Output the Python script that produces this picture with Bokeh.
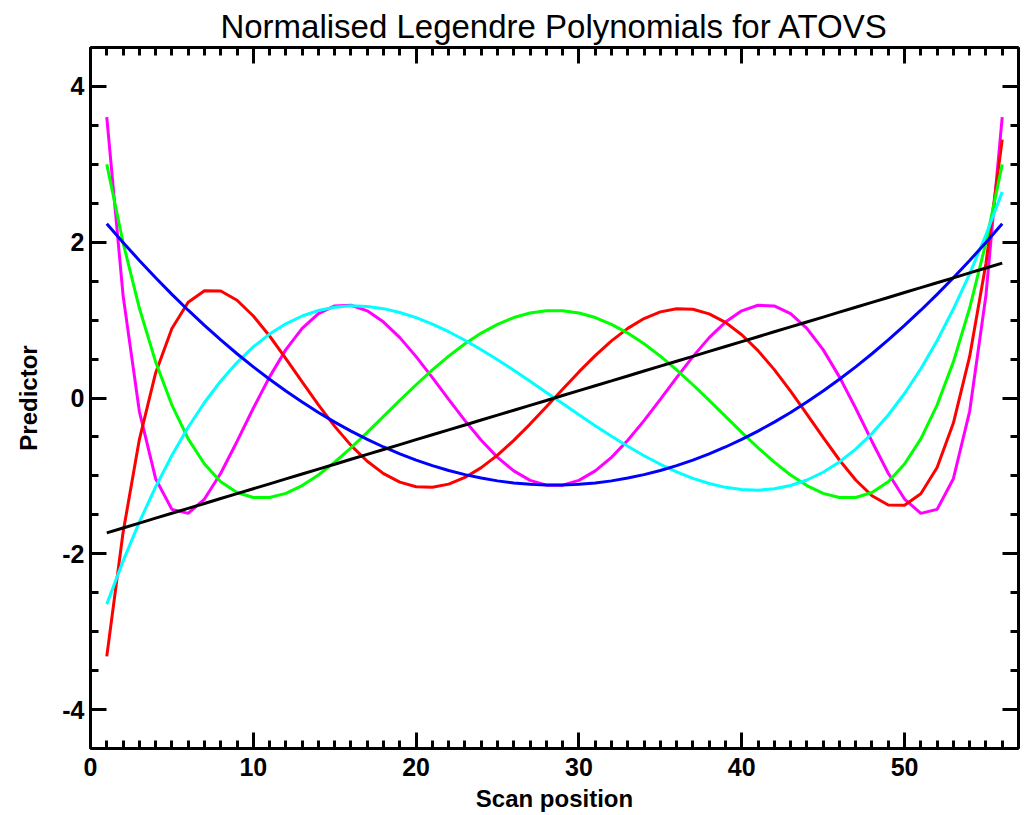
from bokeh.plotting import figure
from bokeh.models import Range1d, FixedTicker, LinearAxis
from bokeh.embed import file_html
from bokeh.resources import INLINE

scan = list(range(1, 57))

p1 = [-1.732, -1.669, -1.606, -1.543, -1.480, -1.417, -1.354, -1.291, -1.228, -1.165,
      -1.102, -1.039, -0.976, -0.913, -0.850, -0.787, -0.724, -0.661, -0.598, -0.535,
      -0.472, -0.409, -0.346, -0.283, -0.220, -0.158, -0.095, -0.032,
      0.032, 0.095, 0.158, 0.220, 0.283, 0.346, 0.409, 0.472, 0.535, 0.598,
      0.661, 0.724, 0.787, 0.850, 0.913, 0.976, 1.039, 1.102, 1.165, 1.228,
      1.291, 1.354, 1.417, 1.480, 1.543, 1.606, 1.669, 1.732]

p2 = [2.236, 1.997, 1.766, 1.544, 1.331, 1.127, 0.932, 0.746, 0.568, 0.400,
      0.240, 0.089, -0.052, -0.186, -0.310, -0.425, -0.532, -0.629, -0.718, -0.798,
      -0.869, -0.931, -0.984, -1.028, -1.064, -1.090, -1.108, -1.117,
      -1.117, -1.108, -1.090, -1.064, -1.028, -0.984, -0.931, -0.869, -0.798, -0.718,
      -0.629, -0.532, -0.425, -0.310, -0.186, -0.052, 0.089, 0.240, 0.400, 0.568,
      0.746, 0.932, 1.127, 1.331, 1.544, 1.766, 1.997, 2.236]

p3 = [-2.646, -2.094, -1.594, -1.142, -0.736, -0.376, -0.058, 0.218, 0.456, 0.656,
      0.821, 0.953, 1.053, 1.123, 1.166, 1.183, 1.176, 1.147, 1.098, 1.031,
      0.948, 0.851, 0.741, 0.620, 0.492, 0.356, 0.215, 0.072,
      -0.072, -0.215, -0.356, -0.492, -0.620, -0.741, -0.851, -0.948, -1.031, -1.098,
      -1.147, -1.176, -1.183, -1.166, -1.123, -1.053, -0.953, -0.821, -0.656, -0.456,
      -0.218, 0.058, 0.376, 0.736, 1.142, 1.594, 2.094, 2.646]

p4 = [3.000, 1.996, 1.155, 0.464, -0.091, -0.524, -0.848, -1.074, -1.213, -1.278,
      -1.278, -1.224, -1.124, -0.988, -0.824, -0.639, -0.441, -0.236, -0.031, 0.170,
      0.361, 0.538, 0.696, 0.833, 0.946, 1.033, 1.092, 1.121,
      1.121, 1.092, 1.033, 0.946, 0.833, 0.696, 0.538, 0.361, 0.170, -0.031,
      -0.236, -0.441, -0.639, -0.824, -0.988, -1.124, -1.224, -1.278, -1.278, -1.213,
      -1.074, -0.848, -0.524, -0.091, 0.464, 1.155, 1.996, 3.000]

p5 = [-3.317, -1.727, -0.534, 0.322, 0.893, 1.230, 1.377, 1.374, 1.255, 1.053,
      0.796, 0.506, 0.206, -0.089, -0.364, -0.608, -0.812, -0.971, -1.080, -1.139,
      -1.147, -1.106, -1.020, -0.894, -0.733, -0.544, -0.335, -0.113,
      0.113, 0.335, 0.544, 0.733, 0.894, 1.020, 1.106, 1.147, 1.139, 1.080,
      0.971, 0.812, 0.608, 0.364, 0.089, -0.206, -0.506, -0.796, -1.053, -1.255,
      -1.374, -1.377, -1.230, -0.893, -0.322, 0.534, 1.727, 3.317]

p6 = [3.606, 1.318, -0.171, -1.036, -1.430, -1.481, -1.297, -0.966, -0.558, -0.132,
      0.271, 0.621, 0.895, 1.084, 1.182, 1.191, 1.119, 0.975, 0.775, 0.531,
      0.262, -0.017, -0.291, -0.543, -0.762, -0.936, -1.057, -1.119,
      -1.119, -1.057, -0.936, -0.762, -0.543, -0.291, -0.017, 0.262, 0.531, 0.775,
      0.975, 1.119, 1.191, 1.182, 1.084, 0.895, 0.621, 0.271, -0.132, -0.558,
      -0.966, -1.297, -1.481, -1.430, -1.036, -0.171, 1.318, 3.606]

series = [p6, p5, p4, p3, p2, p1]
colors = ["#ff00ff", "#ff0000", "#00ff00", "#00ffff", "#0000ff", "#000000"]

x_ticks = [0, 10, 20, 30, 40, 50]
x_tick_labels = ["0", "10", "20", "30", "40", "50"]
x_minor = list(range(0, 58))
y_ticks = [-4, -2, 0, 2, 4]
y_tick_labels = ["-4", "-2", "0", "2", "4"]
y_minor = [-4.5 + 0.5 * i for i in range(19)]

FONT = "Liberation Sans"

p = figure(width=1024, height=815, output_backend="svg", toolbar_location=None,
           x_range=Range1d(0, 57), y_range=Range1d(-4.5, 4.5),
           min_border_left=90, min_border_right=6, min_border_top=47,
           min_border_bottom=67)
p.background_fill_color = "white"
p.border_fill_color = "white"
p.outline_line_color = None
p.grid.visible = False

p.title.text = "Normalised Legendre Polynomials for ATOVS"
p.title.align = "center"
p.title.text_font = FONT
p.title.text_font_size = "33px"
p.title.text_font_style = "normal"
p.title.text_color = "black"
p.title.standoff = 5

for yy, c in zip(series, colors):
    p.line(scan, yy, line_color=c, line_width=3)

xt = FixedTicker(ticks=x_ticks, minor_ticks=x_minor)
yt = FixedTicker(ticks=y_ticks, minor_ticks=y_minor)

bottom = p.below[0]
left = p.left[0]
top = LinearAxis(ticker=xt)
right = LinearAxis(ticker=yt)
p.add_layout(top, "above")
p.add_layout(right, "right")

bottom.ticker = xt
left.ticker = yt
bottom.axis_label = "Scan position"
left.axis_label = "Predictor"
bottom.major_label_overrides = {t: s for t, s in zip(x_ticks, x_tick_labels)}
left.major_label_overrides = {t: s for t, s in zip(y_ticks, y_tick_labels)}
top.major_label_overrides = {t: "" for t in x_ticks}
right.major_label_overrides = {t: "" for t in y_ticks}

for ax in [bottom, left, top, right]:
    ax.axis_line_width = 3
    ax.axis_line_color = "black"
    ax.major_tick_in = 16
    ax.major_tick_out = 0
    ax.minor_tick_in = 8
    ax.minor_tick_out = 0
    ax.major_tick_line_width = 3
    ax.minor_tick_line_width = 3
    ax.major_label_text_font = FONT
    ax.major_label_text_font_style = "bold"
    ax.major_label_text_font_size = "25px"
    ax.major_label_text_color = "black"
    ax.axis_label_text_font = FONT
    ax.axis_label_text_font_style = "bold"
    ax.axis_label_text_font_size = "24px"
    ax.axis_label_text_color = "black"

bottom.major_label_standoff = 9
left.major_label_standoff = 6
bottom.axis_label_standoff = 6
left.axis_label_standoff = 17
top.major_label_standoff = 0
right.major_label_standoff = 0

open("out.html", "w").write(file_html(p, INLINE))
